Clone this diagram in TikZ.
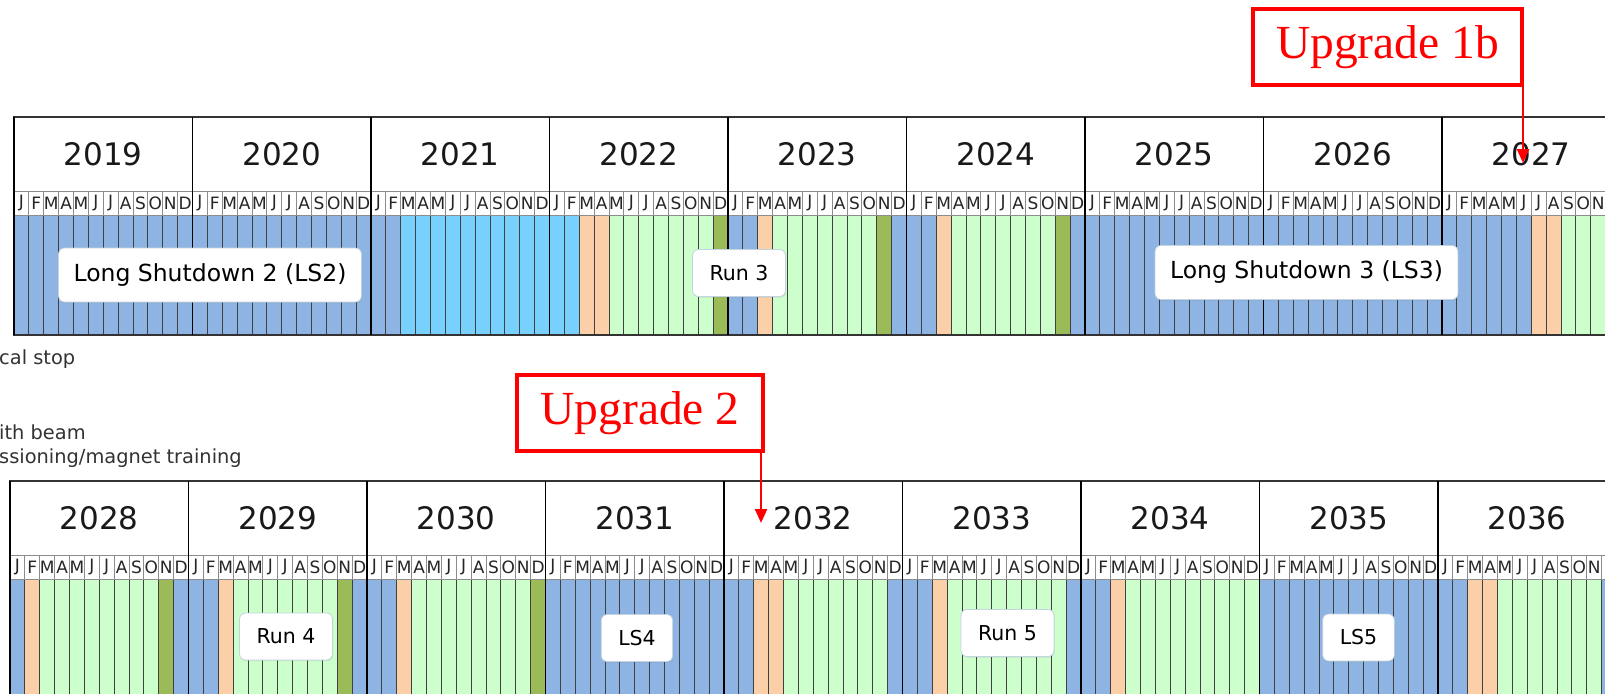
\documentclass[tikz,border=0pt]{standalone}
\usepackage{fontspec}
\setmainfont{DejaVu Sans}
\newfontfamily\upfont{Liberation Serif}
\usetikzlibrary{arrows.meta,shadows}

% month cell colours: b shutdown, c cyan, p peach, g beam, o olive
\definecolor{mb}{HTML}{8DB4E2}
\definecolor{mc}{HTML}{77D1FC}
\definecolor{mp}{HTML}{FBD0A8}
\definecolor{mg}{HTML}{CCFFCC}
\definecolor{mo}{HTML}{9BBB59}
\definecolor{upred}{HTML}{FF0000}
\definecolor{boxedge}{HTML}{C4D3E2}

\tikzset{
	cellline/.style={draw=black!45, line width=0.8pt},
	monthline/.style={draw=black!75, line width=0.9pt},
	yearline/.style={draw=black, line width=1.3pt},
	frameline/.style={draw=black!80, line width=1.5pt},
	yearlbl/.style={text=black!90, font=\fontsize{31}{34}\selectfont, inner sep=0pt},
	monthlbl/.style={text=black!85, font=\fontsize{17}{19}\selectfont, inner sep=0pt},
	phase/.style={draw=boxedge, fill=white, rounded corners=6pt, line width=0.8pt,
		drop shadow={opacity=0.18, shadow xshift=0.8pt, shadow yshift=-1.2pt},
		font=\fontsize{20.5}{24}\selectfont, minimum height=47pt, inner xsep=17pt},
	longphase/.style={phase, font=\fontsize{23.5}{27}\selectfont, minimum height=54pt, inner xsep=15pt},
	legendtxt/.style={text=black!80, font=\fontsize{19.4}{22}\selectfont, inner sep=0pt},
	upbox/.style={draw=upred, line width=4pt, text=upred, fill=white,
		font=\upfont\fontsize{47.5}{52}\selectfont, minimum height=76pt, inner xsep=23pt},
	uparrow/.style={draw=upred, line width=2.5pt, -{Triangle[width=12pt,length=14pt]}}
}

% one timeline row of nine years: #1 first year, #2 month colour codes
\newcommand\drawtimeline[2]{%
	% month cells
	\foreach \mcol [count=\i from 0] in {#2}
		\fill[fill=m\mcol] (14+\i*14.875,215) rectangle ++(14.875,120);
	% month separators
	\foreach \i in {1,...,107} {
		\draw[cellline] (14+\i*14.875,191) -- ++(0,24);
		\draw[monthline] (14+\i*14.875,215) -- ++(0,120);
	}
	% frame
	\draw[cellline] (14,191) -- (1615,191) (14,215) -- (1615,215);
	\draw[frameline] (1615,117) -- (14,117) -- (14,335) -- (1615,335);
	% years and month letters (the last December lies off the page)
	\foreach \k in {0,...,8} {
		\pgfmathtruncatemacro\yr{#1+\k}
		\draw[yearline] (14+\k*178.5,117) -- ++(0,218);
		\node[yearlbl] (y\yr) at (14+\k*178.5+89.25,154) {\yr};
		\foreach \ml [count=\j from 0] in {J,F,M,A,M,J,J,A,S,O,N,D} {
			\pgfmathtruncatemacro\mnum{\k*12+\j}
			\ifnum\mnum<107
				\node[monthlbl] (m\yr-\j) at (14+\k*178.5+\j*14.875+7.44,203) {\ml};
			\fi
		}
	}
}

\begin{document}
\begin{tikzpicture}[x=1pt, y=-1pt]
	
	\useasboundingbox (0,0) rectangle (1605,693);
	\clip (0,0) rectangle (1605,693);
	\fill[white] (0,0) rectangle (1605,693);
	
	% First row, 2019 - 2027
	\drawtimeline{2019}{b,b,b,b,b,b,b,b,b,b,b,b, b,b,b,b,b,b,b,b,b,b,b,b,
		b,b,c,c,c,c,c,c,c,c,c,c, c,c,p,p,g,g,g,g,g,g,g,o,
		b,b,p,g,g,g,g,g,g,g,o,b, b,b,p,g,g,g,g,g,g,g,o,b,
		b,b,b,b,b,b,b,b,b,b,b,b, b,b,b,b,b,b,b,b,b,b,b,b,
		b,b,b,b,b,b,p,p,g,g,g,g}
	
	% Second row, 2028 - 2036
	\begin{scope}[shift={(-4,364)}]
		\drawtimeline{2028}{b,p,g,g,g,g,g,g,g,g,o,b, b,b,p,g,g,g,g,g,g,g,o,b,
			b,b,p,g,g,g,g,g,g,g,g,o, b,b,b,b,b,b,b,b,b,b,b,b,
			b,b,p,p,g,g,g,g,g,g,g,b, b,b,p,g,g,g,g,g,g,g,g,b,
			b,b,p,g,g,g,g,g,g,g,g,g, b,b,b,b,b,b,b,b,b,b,b,b,
			b,b,p,p,g,g,g,g,g,g,g,b}
	\end{scope}
	
	% Phase labels
	\node[longphase] (ls2) at (210,275) {Long Shutdown 2 (LS2)};
	\node[phase] (run3) at (739,273) {Run 3};
	\node[longphase] (ls3) at (1306.5,272.5) {Long Shutdown 3 (LS3)};
	\node[phase] (run4) at (286,636.5) {Run 4};
	\node[phase] (ls4) at (637,638) {LS4};
	\node[phase] (run5) at (1007.5,633) {Run 5};
	\node[phase] (ls5) at (1358.5,637.5) {LS5};
	
	% Legend (cut at the left edge)
	\node[legendtxt, anchor=base west] (lgstop) at (-1,364) {cal stop};
	\node[legendtxt, anchor=base west] (lgbeam) at (-1,439) {ith beam};
	\node[legendtxt, anchor=base west] (lgtrain) at (-1,463) {ssioning/magnet training};
	
	% Upgrades
	\node[upbox] (up1b) at (1387.5,47) {Upgrade 1b};
	\node[upbox] (up2) at (640,413) {Upgrade 2};
	\coordinate (tip1b) at (1523,163);
	\coordinate (tip2) at (761,523);
	\draw[uparrow] (up1b.south east -| tip1b) -- (tip1b);
	\draw[uparrow] (up2.south east -| tip2) -- (tip2);
	
\end{tikzpicture}
\end{document}
